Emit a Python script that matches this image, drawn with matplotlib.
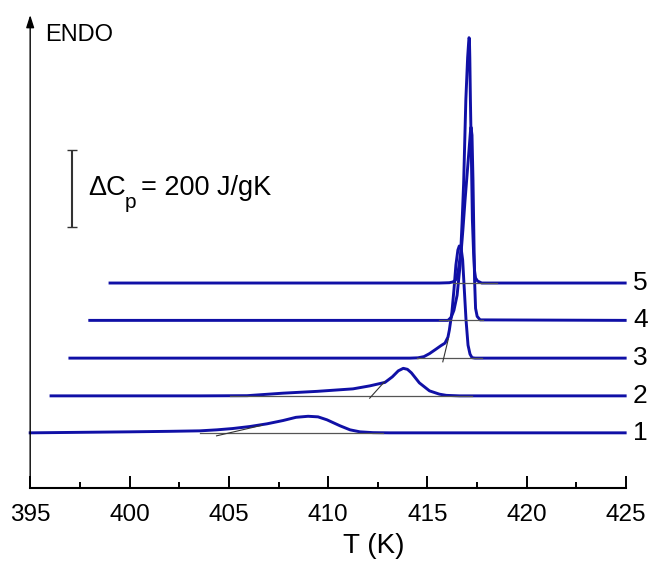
import matplotlib
matplotlib.use("Agg")
import matplotlib.pyplot as plt

# DSC heating traces (T in K, excess heat capacity in J/gK above each trace's baseline)
t1 = [395.0, 397.5, 400.0, 402.0, 403.55, 404.4, 405.2, 406.06, 406.92, 407.73, 408.38,
      408.99, 409.49, 409.94, 410.6, 411.1, 411.6, 412.26, 413.11, 424.95]
cp1 = [0, 1.3, 2.6, 3.9, 5.2, 7.8, 11.2, 16.4, 23.4, 32.0, 40.3,
       43.0, 41.5, 33.8, 18.2, 7.8, 2.6, 0.5, 0, 0]

t2 = [396.05, 403.55, 405.92, 407.73, 409.44, 411.25, 412.1, 412.86, 413.23, 413.53,
      413.78, 413.99, 414.19, 414.59, 415.1, 415.6, 415.95, 416.61, 424.95]
cp2 = [0, 0, 0.5, 7, 11.7, 18.2, 26, 35, 49.4, 65,
       71.5, 68.9, 59.8, 33.8, 13, 4.4, 1.3, 0, 0]

t3 = [397.0, 414.12, 414.52, 414.82, 415.1, 415.43, 415.68, 415.88, 416.03, 416.1, 416.23,
      416.33, 416.43, 416.53, 416.6, 416.69, 416.77, 416.84, 416.94, 417.04, 417.14,
      417.24, 417.39, 424.95]
cp3 = [0, 0, 0.8, 3.9, 11.7, 23.4, 32.5, 39.0, 54.6, 72.8, 119.6,
       176.8, 241.8, 280.8, 291.2, 286, 254.8, 189.8, 98.8, 33.8, 10.4,
       1.3, 0, 0]

t4 = [398.0, 415.6, 416.03, 416.19, 416.33, 416.49, 416.64, 416.78, 416.89, 416.99, 417.09,
      417.16, 417.19, 417.24, 417.29, 417.33, 417.37, 417.42, 417.5, 417.65, 424.95]
cp4 = [0, 0, 0, 7.8, 26, 65, 143, 234, 312, 377, 442,
       488.8, 501.8, 481, 364, 234, 104, 31.2, 10.4, 1.3, 0]

t5 = [399.02, 415.6, 416.1, 416.26, 416.36, 416.46, 416.56, 416.67, 416.74, 416.82, 416.93,
      417.02, 417.07, 417.09, 417.11, 417.13, 417.16, 417.21, 417.26, 417.32, 417.37,
      417.42, 417.52, 417.73, 424.95]
cp5 = [0, 0, 0.8, 2.6, 5.2, 10.4, 36.4, 78, 156, 260, 475.8,
       585, 624, 637, 634.4, 585, 475.8, 325, 163.8, 78, 31.2,
       13, 5.2, 0, 0]

curve_labels = ["1", "2", "3", "4", "5"]

# baselines and onset tangents: (T start, T end, cp start, cp end)
baselines = [(403.55, 412.76, -1.5, -1.5), (405.06, 417.26, -1.3, -1.3),
             (414.47, 417.73, 0, 0), (415.6, 417.8, 0, 0), (416.26, 418.5, 0, 0)]
tangents = [(404.38, 406.66, -7.8, 19.5), (412.09, 412.84, -6.0, 37.0),
            (415.77, 416.05, -9.6, 50.0)]

scale_bar = 200  # J/gK

offsets = [144, 240, 338, 436, 533]

plt.rcParams['font.family'] = ['Liberation Sans', 'DejaVu Sans']

fig = plt.figure(figsize=(6.49, 5.61), dpi=100)
ax = fig.add_axes([0.0465, 0.1296, 0.9183, 0.8437])

blue = '#1010a6'
for t, cp, off in zip([t1, t2, t3, t4, t5], [cp1, cp2, cp3, cp4, cp5], offsets):
    ax.plot(t, [c + off for c in cp], color=blue, lw=2.1, clip_on=False,
            solid_joinstyle='round', zorder=3)

for (ta, tb, ca, cb), off in zip(baselines, offsets):
    ax.plot([ta, tb], [ca + off, cb + off], color='#555555', lw=0.9, zorder=4)
for (ta, tb, ca, cb), off in zip(tangents, offsets):
    ax.plot([ta, tb], [ca + off, cb + off], color='#333333', lw=0.8, zorder=4)

for lab, off in zip(curve_labels, offsets):
    ax.text(425.35, off, lab, fontsize=19, ha='left', va='center', clip_on=False)

# scale bar for heat capacity
ax.errorbar([397.09], [779], yerr=scale_bar / 2, fmt='none', ecolor='#333333',
            elinewidth=1.5, capsize=3.6, capthick=1)
ax.text(397.9, 779, '\u0394C', fontsize=19.5, ha='left', va='center')
ax.text(399.75, 742, 'p', fontsize=15, ha='left', va='center')
ax.text(400.6, 779, '= %d J/gK' % scale_bar, fontsize=19.5, ha='left', va='center')

ax.set_xlim(395, 425)
ax.set_ylim(0, 1229)
ax.set_xticks([395, 400, 405, 410, 415, 420, 425])
ax.set_xticks([397.5, 402.5, 407.5, 412.5, 417.5, 422.5], minor=True)
ax.set_yticks([])
ax.tick_params(axis='x', which='major', direction='in', length=9, width=1.4,
               labelsize=17.5, pad=11)
ax.tick_params(axis='x', which='minor', direction='in', length=4.5, width=1.4)
for s in ['top', 'right', 'left']:
    ax.spines[s].set_visible(False)
ax.spines['bottom'].set_linewidth(1.5)

# y axis drawn as an arrow with the ENDO label
ax.annotate('', xy=(0, 1.0), xytext=(0, 0), xycoords='axes fraction',
            arrowprops=dict(arrowstyle='-|>,head_length=0.5,head_width=0.16',
                            color='k', lw=1.0, mutation_scale=15,
                            shrinkA=0, shrinkB=0))
fig.text(45 / 649, 1 - 35 / 561, 'ENDO', fontsize=17, ha='left', va='center')

fig.text(374 / 649, 1 - 546 / 561, 'T (K)', fontsize=20, ha='center', va='center')

fig.savefig('out.png', dpi=100)
